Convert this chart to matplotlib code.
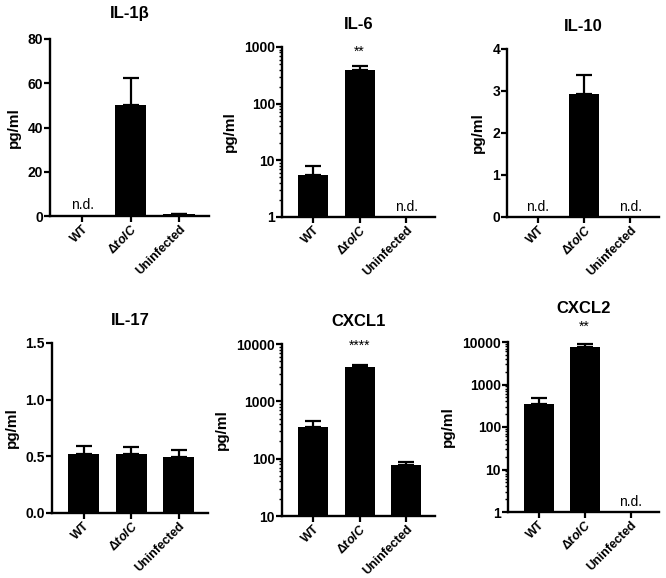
import numpy as np
import matplotlib
matplotlib.use("Agg")
from matplotlib import pyplot as plt
from matplotlib import ticker
from matplotlib.transforms import blended_transform_factory

plt.rcParams['font.family'] = ['Liberation Sans', 'DejaVu Sans']
plt.rcParams['mathtext.fontset'] = 'custom'
plt.rcParams['mathtext.bfit'] = 'Liberation Sans:bold:italic'
plt.rcParams['mathtext.bf'] = 'Liberation Sans:bold'

groups = ['WT', 'Δ$\\mathbfit{tolC}$', 'Uninfected']

# nan = not detected (n.d.)
il1b_mean = [np.nan, 50.0, 0.7]
il1b_err = [0, 12.5, 0.3]
il6_mean = [5.5, 400.0, np.nan]
il6_err = [2.3, 70.0, 0]
il10_mean = [np.nan, 2.92, np.nan]
il10_err = [0, 0.46, 0]
il17_mean = [0.52, 0.525, 0.49]
il17_err = [0.07, 0.06, 0.07]
cxcl1_mean = [350.0, 3900.0, 77.0]
cxcl1_err = [100.0, 400.0, 11.0]
cxcl2_mean = [350.0, 7700.0, np.nan]
cxcl2_err = [120.0, 1300.0, 0]

titles = ['IL-1β', 'IL-6', 'IL-10', 'IL-17', 'CXCL1', 'CXCL2']
stars = {'IL-6': '**', 'CXCL1': '****', 'CXCL2': '**'}

W, H = 666, 578
fig = plt.figure(figsize=(W / 100, H / 100), dpi=100)


def px_axes(left, right, top, bottom):
    return fig.add_axes([left / W, (H - bottom) / H, (right - left) / W, (bottom - top) / H])


def panel(box, title, means, errs, log=False, ylim=None, yticks=None, star_y=None, tpad=13):
    ax = px_axes(*box)
    x = np.arange(len(groups))
    means = np.array(means, dtype=float)
    errs = np.array(errs, dtype=float)
    ok = ~np.isnan(means)
    ax.bar(x[ok], means[ok], width=0.65, color='black', zorder=2)
    ax.errorbar(x[ok], means[ok], yerr=[np.zeros(ok.sum()), errs[ok]], fmt='none',
                ecolor='black', elinewidth=1.6, capsize=6, capthick=1.6, zorder=1)
    if log:
        ax.set_yscale('log')
        ax.yaxis.set_major_formatter(ticker.FuncFormatter(lambda v, p: '%d' % v))
        ax.yaxis.set_minor_locator(ticker.LogLocator(base=10, subs=np.arange(2, 10)))
        ax.yaxis.set_minor_formatter(ticker.NullFormatter())
    ax.set_ylim(*ylim)
    ax.set_yticks(yticks)
    if not log:
        ax.set_yticklabels([('%.1f' % t) if title == 'IL-17' else ('%d' % t) for t in yticks])
    ax.set_xlim(-0.67, 2.62)
    ax.set_xticks(x)
    ax.set_xticklabels(groups, rotation=45, ha='right', rotation_mode='anchor',
                       fontweight='bold', fontsize=9)
    for lab in ax.get_yticklabels():
        lab.set_fontweight('bold')
        lab.set_fontsize(10)
    ax.spines['top'].set_visible(False)
    ax.spines['right'].set_visible(False)
    for s in ['left', 'bottom']:
        ax.spines[s].set_linewidth(1.7)
    ax.tick_params(axis='both', which='major', width=1.6, length=4, pad=1)
    ax.tick_params(axis='y', which='minor', width=1.0, length=2.2)
    ax.set_ylabel('pg/ml', fontweight='bold', fontsize=11, labelpad=5)
    ax.set_title(title, fontweight='bold', fontsize=12, pad=tpad)
    trans = blended_transform_factory(ax.transData, ax.transAxes)
    for i in x[~ok]:
        ax.text(i, 0.02, 'n.d.', transform=trans, ha='center', va='bottom', fontsize=10)
    if title in stars:
        ax.text(1, star_y, stars[title], transform=trans, ha='center', va='center', fontsize=10)
    return ax


panel((50, 209, 39, 216), titles[0], il1b_mean, il1b_err,
      ylim=(0, 80), yticks=[0, 20, 40, 60, 80], tpad=15)
panel((282, 435, 47, 217), titles[1], il6_mean, il6_err, log=True,
      ylim=(1, 1000), yticks=[1, 10, 100, 1000], star_y=0.97)
panel((507, 659, 49, 217), titles[2], il10_mean, il10_err,
      ylim=(0, 4), yticks=[0, 1, 2, 3, 4])
panel((52, 208, 343, 513), titles[3], il17_mean, il17_err,
      ylim=(0, 1.5), yticks=[0.0, 0.5, 1.0, 1.5])
panel((282, 435, 344, 516), titles[4], cxcl1_mean, cxcl1_err, log=True,
      ylim=(10, 10000), yticks=[10, 100, 1000, 10000], star_y=0.99)
panel((508, 659, 342, 512), titles[5], cxcl2_mean, cxcl2_err, log=True,
      ylim=(1, 10000), yticks=[1, 10, 100, 1000, 10000], star_y=1.09, tpad=21)

fig.savefig('out.png', dpi=100)
